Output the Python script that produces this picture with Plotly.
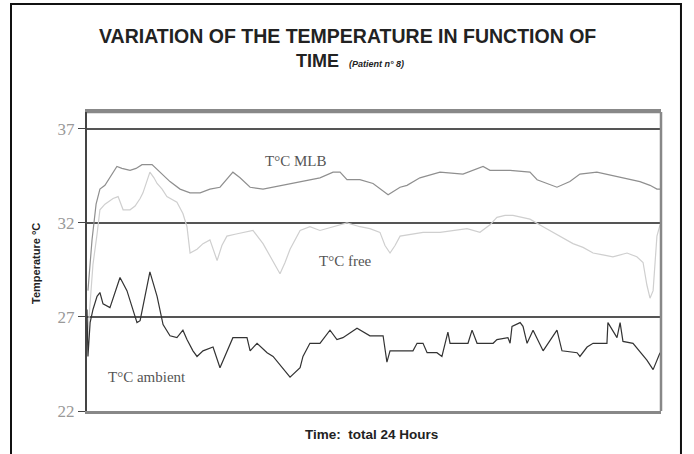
import plotly.graph_objects as go

# ---- data (hours, °C) ----
mlb_hours = [0.04, 0.21, 0.38, 0.54, 0.75, 0.96, 1.09, 1.25, 1.46, 1.80, 2.05, 2.30, 2.72, 3.05, 3.47,
             3.89, 4.31, 4.73, 5.14, 5.56, 5.81, 6.10, 6.40, 6.82, 7.36, 8.20, 8.91, 9.74, 10.29, 10.58,
             10.87, 11.41, 11.96, 12.59, 13.09, 13.38, 13.92, 14.76, 15.72, 16.56, 16.85, 17.69, 18.52,
             18.82, 19.65, 20.19, 20.61, 21.32, 22.41, 23.12, 23.54, 23.83, 23.96]
mlb_temp = [28.4, 31.1, 33.0, 33.8, 34.0, 34.4, 34.7, 35.0, 34.9, 34.8, 34.9, 35.1, 35.1, 34.7, 34.2,
            33.8, 33.6, 33.6, 33.8, 33.9, 34.3, 34.7, 34.4, 33.9, 33.8, 34.0, 34.2, 34.4, 34.7, 34.7,
            34.3, 34.3, 34.1, 33.5, 33.9, 34.0, 34.4, 34.7, 34.6, 35.0, 34.8, 34.8, 34.7,
            34.3, 33.9, 34.2, 34.6, 34.7, 34.4, 34.2, 34.0, 33.8, 33.8]

free_hours = [0.0, 0.13, 0.25, 0.42, 0.54, 0.75, 0.96, 1.09, 1.30, 1.51, 1.80, 2.01, 2.22, 2.34, 2.55,
              2.63, 2.80, 2.93, 3.14, 3.34, 3.76, 4.01, 4.18, 4.31, 4.60, 4.85, 5.14, 5.44, 5.64, 5.85,
              6.19, 6.94, 7.36, 7.78, 8.07, 8.28, 8.49, 8.91, 9.32, 9.74, 10.29, 10.87, 11.41, 11.83,
              12.25, 12.46, 12.67, 12.88, 13.09, 13.51, 14.05, 14.76, 15.39, 15.89, 16.43, 16.85, 17.14,
              17.48, 17.81, 18.19, 18.52, 19.07, 19.48, 19.90, 20.32, 20.74, 21.16, 21.57, 21.99, 22.58,
              22.99, 23.25, 23.41, 23.54, 23.67, 23.83, 23.96]
free_temp = [25.5, 27.9, 29.8, 31.4, 32.7, 33.0, 33.2, 33.3, 33.4, 32.7, 32.7, 32.9, 33.3, 33.6, 34.4,
             34.7, 34.4, 34.1, 33.8, 33.4, 33.1, 32.5, 31.8, 30.4, 30.6, 30.9, 31.1, 30.0, 30.8, 31.3,
             31.4, 31.6, 30.9, 30.0, 29.3, 29.9, 30.6, 31.6, 31.8, 31.6, 31.8, 32.0, 31.8, 31.7,
             31.5, 30.8, 30.4, 30.8, 31.3, 31.4, 31.5, 31.5, 31.6, 31.7, 31.5, 31.9, 32.3,
             32.4, 32.4, 32.3, 32.2, 31.8, 31.5, 31.2, 30.9, 30.7, 30.4, 30.3, 30.2, 30.4,
             30.2, 29.9, 28.7, 28.0, 28.4, 31.3, 31.9]

amb_hours = [0.0, 0.04, 0.13, 0.25, 0.42, 0.54, 0.67, 0.96, 1.38, 1.67, 2.09, 2.22, 2.63, 2.93, 3.18,
             3.47, 3.76, 4.01, 4.18, 4.43, 4.60, 4.85, 5.27, 5.56, 6.10, 6.69, 6.82, 7.11, 7.53, 7.78,
             8.49, 8.91, 9.03, 9.32, 9.74, 10.16, 10.45, 10.70, 11.29, 11.83, 12.38, 12.54, 12.67,
             13.63, 13.80, 14.05, 14.22, 14.63, 14.84, 15.09, 15.18, 15.93, 16.10, 16.31, 16.98, 17.14,
             17.60, 17.69, 17.77, 18.11, 18.23, 18.40, 18.65, 19.07, 19.65, 19.86, 20.49, 20.61, 20.91,
             21.16, 21.74, 21.78, 22.16, 22.29, 22.41, 22.83, 23.41, 23.67, 23.96]
amb_temp = [27.4, 24.9, 26.7, 27.4, 28.1, 28.3, 27.7, 27.5, 29.1, 28.4, 26.7, 26.8, 29.4, 28.1, 26.6,
            26.0, 25.9, 26.3, 25.8, 25.2, 24.9, 25.2, 25.4, 24.3, 25.9, 25.9, 25.2, 25.6, 25.1, 24.9,
            23.8, 24.3, 24.9, 25.6, 25.6, 26.3, 25.8, 25.9, 26.4, 26.0, 26.0, 24.6, 25.2,
            25.2, 25.6, 25.6, 25.1, 25.1, 24.9, 26.2, 25.6, 25.6, 26.3, 25.6, 25.6, 25.8,
            25.9, 25.6, 26.5, 26.7, 26.5, 25.6, 26.3, 25.2, 26.3, 25.2, 25.1, 24.9, 25.4,
            25.6, 25.6, 26.7, 25.9, 26.7, 25.7, 25.6, 24.7, 24.2, 25.1]

y_ticks = [22, 27, 32, 37]
series_labels = ["T°C MLB", "T°C free", "T°C ambient"]
label_pos_hours = [8.7, 10.8, 2.5]
label_pos_temp = [35.3, 30.0, 23.8]

fig = go.Figure()
fig.add_trace(go.Scatter(x=free_hours, y=free_temp, mode="lines",
                         line=dict(color="#cfcfcf", width=1.2), showlegend=False))
fig.add_trace(go.Scatter(x=mlb_hours, y=mlb_temp, mode="lines",
                         line=dict(color="#8f8f8f", width=1.2), showlegend=False))
fig.add_trace(go.Scatter(x=amb_hours, y=amb_temp, mode="lines",
                         line=dict(color="#333333", width=1.2), showlegend=False))

for txt, hx, ty in zip(series_labels, label_pos_hours, label_pos_temp):
    fig.add_annotation(x=hx, y=ty, xref="x", yref="y", text=txt, showarrow=False,
                       xanchor="center", yanchor="middle",
                       font=dict(family="Liberation Serif", size=15, color="#555555"))

# titles
fig.add_annotation(x=0.4547, y=1.254, xref="paper", yref="paper", showarrow=False,
                   xanchor="center", yanchor="middle",
                   text="<b>VARIATION OF THE TEMPERATURE IN FUNCTION OF</b>",
                   font=dict(family="Liberation Sans", size=19.5, color="#222222"))
fig.add_annotation(x=0.458, y=1.171, xref="paper", yref="paper", showarrow=False,
                   xanchor="center", yanchor="middle",
                   text="<b>TIME</b>  <b><i><span style='font-size:9px'>(Patient n° 8)</span></i></b>",
                   font=dict(family="Liberation Sans", size=18, color="#222222"))
fig.add_annotation(x=0.495, y=-0.08, xref="paper", yref="paper", showarrow=False,
                   xanchor="center", yanchor="middle",
                   text="<b>Time:  total 24 Hours</b>",
                   font=dict(family="Liberation Sans", size=13.5, color="#222222"))
fig.add_annotation(x=-0.0889, y=0.495, xref="paper", yref="paper", showarrow=False, textangle=-90,
                   xanchor="center", yanchor="middle",
                   text="<b>Temperature °C</b>",
                   font=dict(family="Liberation Sans", size=11, color="#222222"))

# outer frame
fig.add_shape(type="rect", xref="paper", yref="paper", x0=-0.1324, x1=1.0348, y0=-0.2, y1=1.361,
              line=dict(color="#111111", width=2), fillcolor="rgba(0,0,0,0)", layer="below")

fig.update_layout(
    width=694, height=454,
    margin=dict(l=87, r=33, t=112, b=43),
    paper_bgcolor="white", plot_bgcolor="white",
    xaxis=dict(range=[0, 24], showticklabels=False, ticks="", showgrid=False, zeroline=False,
               showline=True, linecolor="#888888", linewidth=2.5, mirror=True),
    yaxis=dict(range=[22, 37.9], tickvals=y_ticks, ticks="outside", ticklen=7, tickcolor="#444444",
               tickfont=dict(family="Liberation Serif", size=17, color="#999999"),
               showgrid=True, gridcolor="#555555", gridwidth=1.5, zeroline=False,
               showline=True, linecolor="#444444", linewidth=2, mirror=False),
)
fig.add_shape(type="line", xref="paper", yref="paper", x0=1, x1=1, y0=0, y1=1,
              line=dict(color="#888888", width=2.5))
fig.add_shape(type="line", xref="paper", yref="paper", x0=0, x1=1, y0=1, y1=1,
              line=dict(color="#888888", width=2.5))

fig.write_html("out.html", config={"displayModeBar": False},
               post_script="document.body.style.margin='0';document.body.style.overflow='hidden';")
